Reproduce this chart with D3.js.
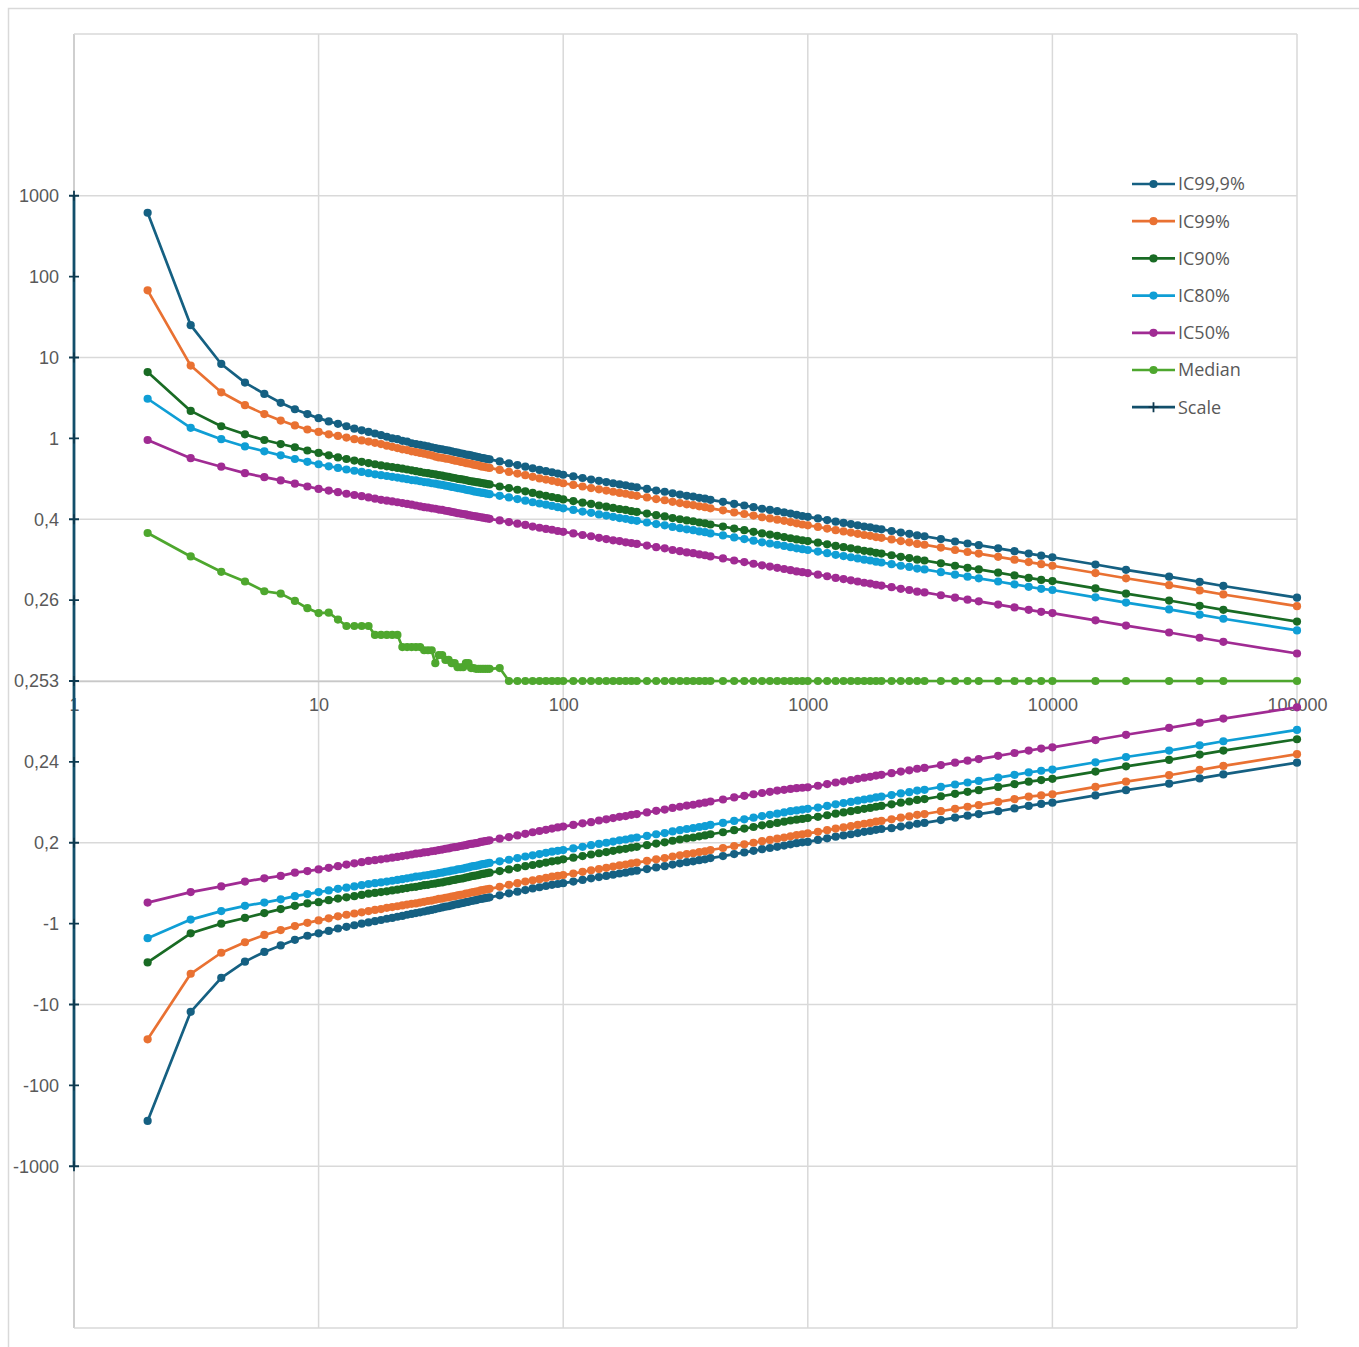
<!DOCTYPE html>
<html>
<head>
<meta charset="utf-8">
<script src="https://cdn.jsdelivr.net/npm/d3@7"></script>
<style>
  body { margin: 0; background: #fff; }
  svg { display: block; font-family: "Open Sans", "Liberation Sans", sans-serif; }
</style>
</head>
<body>
<div id="chart"></div>
<script>
// sample sizes (log x axis)
const sampleSizes = [
  2, 3, 4, 5, 6, 7, 8, 9,
  10, 11, 12, 13, 14, 15, 16, 17, 18, 19, 20, 21, 22, 23, 24, 25, 26, 27, 28, 29,
  30, 31, 32, 33, 34, 35, 36, 37, 38, 39, 40, 41, 42, 43, 44, 45, 46, 47, 48, 49, 50,
  55, 60, 65, 70, 75, 80, 85, 90, 95, 100,
  110, 120, 130, 140, 150, 160, 170, 180, 190, 200,
  220, 240, 260, 280, 300, 320, 340, 360, 380, 400,
  450, 500, 550, 600, 650, 700, 750, 800, 850, 900, 950, 1000,
  1100, 1200, 1300, 1400, 1500, 1600, 1700, 1800, 1900, 2000,
  2200, 2400, 2600, 2800, 3000, 3500, 4000, 4500, 5000,
  6000, 7000, 8000, 9000, 10000, 15000, 20000, 30000, 40000, 50000, 100000
];

// values on the chart's stepped scale (one step per labelled tick, 0 = 0,253)
const ic999Hi = [
  5.79, 4.40, 3.92, 3.69, 3.55, 3.44, 3.36, 3.30,
  3.25, 3.21, 3.18, 3.15, 3.12, 3.10, 3.08, 3.06, 3.04, 3.02, 3.00, 2.99, 2.97, 2.96, 2.94, 2.93, 2.92, 2.91, 2.90, 2.89,
  2.88, 2.87, 2.865, 2.855, 2.85, 2.84, 2.83, 2.825, 2.815, 2.81, 2.80, 2.795, 2.79, 2.78, 2.775, 2.77, 2.76, 2.755, 2.75, 2.745, 2.74,
  2.715, 2.69, 2.67, 2.65, 2.63, 2.61, 2.595, 2.58, 2.565, 2.55,
  2.53, 2.51, 2.49, 2.475, 2.46, 2.445, 2.43, 2.42, 2.405, 2.395,
  2.375, 2.355, 2.34, 2.32, 2.305, 2.29, 2.28, 2.265, 2.255, 2.24,
  2.215, 2.19, 2.17, 2.15, 2.13, 2.115, 2.10, 2.085, 2.07, 2.055, 2.04, 2.03,
  2.01, 1.99, 1.97, 1.955, 1.94, 1.925, 1.91, 1.90, 1.885, 1.875,
  1.855, 1.835, 1.82, 1.80, 1.79, 1.755, 1.725, 1.70, 1.68,
  1.64, 1.605, 1.575, 1.55, 1.53, 1.44, 1.375, 1.29, 1.225, 1.175, 1.03
];
const ic99Hi = [
  4.83, 3.90, 3.57, 3.41, 3.30, 3.22, 3.16, 3.11,
  3.08, 3.05, 3.03, 3.01, 2.99, 2.975, 2.96, 2.945, 2.93, 2.91, 2.895, 2.88, 2.865, 2.855, 2.84, 2.83, 2.82, 2.81, 2.80, 2.79,
  2.775, 2.765, 2.76, 2.75, 2.745, 2.735, 2.725, 2.72, 2.71, 2.705, 2.695, 2.69, 2.685, 2.675, 2.67, 2.665, 2.655, 2.65, 2.645, 2.64, 2.635,
  2.61, 2.585, 2.565, 2.545, 2.525, 2.505, 2.49, 2.475, 2.46, 2.445,
  2.425, 2.405, 2.385, 2.37, 2.355, 2.34, 2.325, 2.315, 2.30, 2.29,
  2.27, 2.25, 2.235, 2.215, 2.20, 2.185, 2.175, 2.16, 2.15, 2.135,
  2.11, 2.085, 2.065, 2.045, 2.025, 2.01, 1.995, 1.98, 1.965, 1.95, 1.935, 1.925,
  1.905, 1.885, 1.865, 1.85, 1.835, 1.82, 1.805, 1.795, 1.78, 1.77,
  1.75, 1.73, 1.715, 1.695, 1.685, 1.65, 1.62, 1.595, 1.575,
  1.535, 1.50, 1.47, 1.445, 1.425, 1.335, 1.27, 1.185, 1.12, 1.07, 0.925
];
const ic90Hi = [
  3.82, 3.34, 3.15, 3.05, 2.98, 2.93, 2.89, 2.85,
  2.82, 2.79, 2.765, 2.745, 2.725, 2.71, 2.695, 2.68, 2.665, 2.655, 2.645, 2.635, 2.625, 2.615, 2.605, 2.595, 2.585, 2.575, 2.57, 2.56,
  2.555, 2.545, 2.54, 2.53, 2.525, 2.515, 2.51, 2.50, 2.495, 2.49, 2.485, 2.475, 2.47, 2.465, 2.46, 2.455, 2.45, 2.445, 2.44, 2.435, 2.43,
  2.405, 2.385, 2.365, 2.345, 2.325, 2.305, 2.29, 2.275, 2.26, 2.245,
  2.225, 2.205, 2.19, 2.17, 2.155, 2.14, 2.125, 2.115, 2.10, 2.09,
  2.07, 2.05, 2.035, 2.015, 2.00, 1.985, 1.975, 1.96, 1.95, 1.935,
  1.91, 1.885, 1.865, 1.845, 1.825, 1.81, 1.795, 1.78, 1.765, 1.75, 1.74, 1.73,
  1.71, 1.69, 1.67, 1.655, 1.64, 1.625, 1.61, 1.60, 1.585, 1.575,
  1.555, 1.535, 1.52, 1.50, 1.49, 1.455, 1.425, 1.40, 1.38,
  1.34, 1.305, 1.275, 1.25, 1.235, 1.145, 1.08, 0.995, 0.93, 0.88, 0.735
];
const ic80Hi = [
  3.49, 3.13, 2.99, 2.90, 2.84, 2.79, 2.745, 2.71,
  2.68, 2.655, 2.635, 2.615, 2.60, 2.585, 2.57, 2.555, 2.545, 2.535, 2.525, 2.515, 2.505, 2.495, 2.485, 2.48, 2.47, 2.46, 2.455, 2.445,
  2.44, 2.43, 2.425, 2.415, 2.41, 2.40, 2.395, 2.385, 2.38, 2.375, 2.365, 2.36, 2.355, 2.345, 2.34, 2.335, 2.33, 2.325, 2.32, 2.315, 2.31,
  2.29, 2.27, 2.25, 2.23, 2.21, 2.195, 2.18, 2.165, 2.15, 2.135,
  2.115, 2.095, 2.08, 2.06, 2.045, 2.03, 2.015, 2.005, 1.99, 1.98,
  1.96, 1.94, 1.925, 1.905, 1.89, 1.875, 1.865, 1.85, 1.84, 1.825,
  1.80, 1.775, 1.755, 1.735, 1.715, 1.70, 1.685, 1.67, 1.655, 1.64, 1.63, 1.62,
  1.60, 1.58, 1.56, 1.545, 1.53, 1.515, 1.50, 1.49, 1.475, 1.465,
  1.445, 1.425, 1.41, 1.39, 1.38, 1.345, 1.315, 1.29, 1.27,
  1.23, 1.195, 1.165, 1.14, 1.125, 1.035, 0.97, 0.885, 0.82, 0.77, 0.625
];
const ic50Hi = [
  2.98, 2.755, 2.65, 2.57, 2.52, 2.48, 2.44, 2.405,
  2.375, 2.355, 2.335, 2.315, 2.30, 2.285, 2.27, 2.255, 2.24, 2.23, 2.22, 2.21, 2.20, 2.19, 2.18, 2.17, 2.16, 2.15, 2.145, 2.135,
  2.13, 2.12, 2.115, 2.105, 2.10, 2.09, 2.085, 2.075, 2.07, 2.065, 2.06, 2.05, 2.045, 2.04, 2.035, 2.03, 2.025, 2.02, 2.015, 2.01, 2.005,
  1.985, 1.965, 1.945, 1.93, 1.91, 1.895, 1.88, 1.87, 1.855, 1.845,
  1.825, 1.805, 1.79, 1.77, 1.755, 1.74, 1.73, 1.715, 1.705, 1.695,
  1.675, 1.655, 1.64, 1.62, 1.605, 1.59, 1.58, 1.565, 1.555, 1.54,
  1.515, 1.49, 1.47, 1.45, 1.43, 1.415, 1.40, 1.385, 1.37, 1.355, 1.345, 1.335,
  1.315, 1.295, 1.275, 1.26, 1.245, 1.23, 1.215, 1.205, 1.19, 1.18,
  1.16, 1.14, 1.125, 1.105, 1.095, 1.06, 1.03, 1.005, 0.985,
  0.945, 0.91, 0.88, 0.855, 0.84, 0.75, 0.685, 0.60, 0.535, 0.485, 0.34
];
const medianVals = [
  1.83, 1.54, 1.35, 1.23, 1.11, 1.08, 0.99, 0.90,
  0.84, 0.845, 0.76, 0.68, 0.68, 0.68, 0.68, 0.57, 0.57, 0.57, 0.57, 0.57, 0.42, 0.42, 0.42, 0.42, 0.42, 0.38, 0.38, 0.38,
  0.22, 0.32, 0.32, 0.26, 0.26, 0.22, 0.22, 0.17, 0.17, 0.17, 0.22, 0.22, 0.16, 0.16, 0.15, 0.15, 0.15, 0.15, 0.15, 0.15, 0.15,
  0.16, 0, 0, 0, 0, 0, 0, 0, 0, 0,
  0, 0, 0, 0, 0, 0, 0, 0, 0, 0,
  0, 0, 0, 0, 0, 0, 0, 0, 0, 0,
  0, 0, 0, 0, 0, 0, 0, 0, 0, 0, 0, 0,
  0, 0, 0, 0, 0, 0, 0, 0, 0, 0,
  0, 0, 0, 0, 0, 0, 0, 0, 0,
  0, 0, 0, 0, 0, 0, 0, 0, 0, 0, 0
];
const ic50Lo = [
  -2.74, -2.61, -2.54, -2.48, -2.44, -2.41, -2.37, -2.35,
  -2.33, -2.31, -2.29, -2.27, -2.255, -2.24, -2.225, -2.215, -2.205, -2.195, -2.185, -2.175, -2.165, -2.155, -2.145, -2.135, -2.13, -2.12, -2.115, -2.105,
  -2.10, -2.09, -2.085, -2.075, -2.07, -2.06, -2.055, -2.05, -2.04, -2.035, -2.03, -2.02, -2.015, -2.01, -2.005, -2.00, -1.99, -1.985, -1.98, -1.975, -1.97,
  -1.95, -1.93, -1.91, -1.89, -1.87, -1.855, -1.84, -1.825, -1.81, -1.80,
  -1.78, -1.76, -1.745, -1.725, -1.71, -1.695, -1.68, -1.67, -1.655, -1.645,
  -1.625, -1.605, -1.59, -1.57, -1.555, -1.54, -1.53, -1.515, -1.505, -1.49,
  -1.465, -1.44, -1.42, -1.40, -1.385, -1.37, -1.355, -1.345, -1.335, -1.325, -1.32, -1.315,
  -1.295, -1.275, -1.255, -1.24, -1.225, -1.21, -1.195, -1.185, -1.17, -1.16,
  -1.14, -1.12, -1.105, -1.085, -1.075, -1.04, -1.01, -0.985, -0.965,
  -0.925, -0.89, -0.86, -0.835, -0.82, -0.73, -0.665, -0.58, -0.515, -0.465, -0.325
];
const ic80Lo = [
  -3.18, -2.95, -2.845, -2.78, -2.74, -2.70, -2.66, -2.635,
  -2.61, -2.59, -2.57, -2.555, -2.54, -2.525, -2.51, -2.50, -2.49, -2.48, -2.47, -2.46, -2.45, -2.44, -2.43, -2.42, -2.415, -2.405, -2.40, -2.39,
  -2.385, -2.375, -2.37, -2.36, -2.355, -2.345, -2.34, -2.33, -2.325, -2.32, -2.31, -2.305, -2.295, -2.29, -2.285, -2.28, -2.27, -2.265, -2.26, -2.255, -2.25,
  -2.23, -2.21, -2.19, -2.17, -2.155, -2.14, -2.125, -2.11, -2.10, -2.09,
  -2.07, -2.05, -2.03, -2.015, -2.00, -1.985, -1.97, -1.96, -1.945, -1.935,
  -1.915, -1.895, -1.88, -1.86, -1.845, -1.83, -1.82, -1.805, -1.795, -1.78,
  -1.755, -1.73, -1.71, -1.69, -1.67, -1.655, -1.64, -1.625, -1.61, -1.60, -1.59, -1.58,
  -1.565, -1.545, -1.525, -1.51, -1.495, -1.48, -1.465, -1.455, -1.44, -1.43,
  -1.41, -1.39, -1.375, -1.355, -1.345, -1.31, -1.28, -1.255, -1.235,
  -1.195, -1.16, -1.13, -1.11, -1.095, -1.005, -0.94, -0.86, -0.795, -0.745, -0.605
];
const ic90Lo = [
  -3.48, -3.12, -3.00, -2.93, -2.87, -2.82, -2.78, -2.75,
  -2.735, -2.71, -2.69, -2.675, -2.66, -2.645, -2.63, -2.62, -2.61, -2.60, -2.59, -2.58, -2.57, -2.56, -2.55, -2.545, -2.535, -2.525, -2.52, -2.51,
  -2.505, -2.495, -2.49, -2.48, -2.475, -2.465, -2.46, -2.45, -2.445, -2.44, -2.43, -2.425, -2.415, -2.41, -2.405, -2.40, -2.39, -2.385, -2.38, -2.375, -2.37,
  -2.35, -2.33, -2.31, -2.29, -2.275, -2.26, -2.245, -2.23, -2.22, -2.205,
  -2.185, -2.165, -2.145, -2.13, -2.115, -2.10, -2.085, -2.075, -2.06, -2.05,
  -2.03, -2.01, -1.995, -1.975, -1.96, -1.945, -1.935, -1.92, -1.91, -1.895,
  -1.87, -1.845, -1.825, -1.805, -1.785, -1.77, -1.755, -1.74, -1.725, -1.715, -1.705, -1.695,
  -1.68, -1.66, -1.64, -1.625, -1.61, -1.595, -1.58, -1.57, -1.555, -1.545,
  -1.525, -1.505, -1.49, -1.47, -1.46, -1.425, -1.395, -1.37, -1.35,
  -1.31, -1.275, -1.245, -1.225, -1.21, -1.12, -1.055, -0.975, -0.91, -0.86, -0.72
];
const ic99Lo = [
  -4.43, -3.62, -3.36, -3.23, -3.14, -3.08, -3.03, -2.99,
  -2.96, -2.935, -2.91, -2.89, -2.875, -2.86, -2.845, -2.83, -2.82, -2.805, -2.795, -2.785, -2.775, -2.765, -2.755, -2.75, -2.74, -2.73, -2.72, -2.715,
  -2.705, -2.695, -2.69, -2.68, -2.675, -2.665, -2.66, -2.65, -2.645, -2.64, -2.63, -2.625, -2.615, -2.61, -2.605, -2.60, -2.59, -2.585, -2.58, -2.575, -2.57,
  -2.545, -2.52, -2.50, -2.48, -2.465, -2.45, -2.435, -2.42, -2.41, -2.40,
  -2.38, -2.36, -2.34, -2.325, -2.31, -2.295, -2.28, -2.27, -2.255, -2.245,
  -2.225, -2.205, -2.19, -2.17, -2.155, -2.14, -2.13, -2.115, -2.105, -2.09,
  -2.065, -2.04, -2.02, -2.00, -1.98, -1.965, -1.95, -1.935, -1.92, -1.905, -1.895, -1.885,
  -1.865, -1.845, -1.825, -1.81, -1.795, -1.78, -1.765, -1.755, -1.74, -1.73,
  -1.71, -1.69, -1.675, -1.655, -1.645, -1.61, -1.58, -1.555, -1.535,
  -1.495, -1.46, -1.43, -1.415, -1.40, -1.31, -1.245, -1.165, -1.10, -1.05, -0.905
];
const ic999Lo = [
  -5.44, -4.09, -3.67, -3.47, -3.35, -3.27, -3.20, -3.15,
  -3.12, -3.09, -3.06, -3.04, -3.02, -3.00, -2.985, -2.97, -2.955, -2.94, -2.93, -2.915, -2.905, -2.89, -2.88, -2.87, -2.86, -2.85, -2.84, -2.83,
  -2.82, -2.81, -2.80, -2.79, -2.785, -2.775, -2.765, -2.76, -2.75, -2.745, -2.735, -2.73, -2.72, -2.715, -2.71, -2.70, -2.695, -2.69, -2.685, -2.68, -2.675,
  -2.65, -2.625, -2.605, -2.585, -2.565, -2.55, -2.535, -2.52, -2.51, -2.50,
  -2.48, -2.46, -2.44, -2.425, -2.41, -2.395, -2.38, -2.37, -2.355, -2.345,
  -2.325, -2.305, -2.29, -2.27, -2.255, -2.24, -2.23, -2.215, -2.205, -2.19,
  -2.165, -2.14, -2.12, -2.10, -2.08, -2.065, -2.05, -2.035, -2.02, -2.005, -1.995, -1.99,
  -1.965, -1.945, -1.925, -1.91, -1.895, -1.88, -1.865, -1.855, -1.84, -1.83,
  -1.82, -1.80, -1.785, -1.765, -1.755, -1.72, -1.69, -1.665, -1.645,
  -1.61, -1.575, -1.545, -1.52, -1.505, -1.415, -1.35, -1.27, -1.205, -1.155, -1.01
];

// the "Scale" series: one step per tick label
const scaleSteps = [6, 5, 4, 3, 2, 1, 0, -1, -2, -3, -4, -5, -6];
const scaleLabels = ['1000', '100', '10', '1', '0,4', '0,26', '0,253', '0,24', '0,2', '-1', '-10', '-100', '-1000'];
const xTicks = [1, 10, 100, 1000, 10000, 100000];
const legendNames = ['IC99,9%', 'IC99%', 'IC90%', 'IC80%', 'IC50%', 'Median', 'Scale'];
const colors = ['#156082', '#e97132', '#196b24', '#0f9ed5', '#a02b93', '#4ea72e', '#124f6b'];

const W = 1359, H = 1347;
const plot = { left: 74, right: 1297, top: 34, bottom: 1328 };
const dotR = 4.1;
const lineW = 2.7;

const svg = d3.select('#chart').append('svg').attr('width', W).attr('height', H);

// chart frame
svg.append('rect')
  .attr('x', 8.5).attr('y', 8.5)
  .attr('width', W).attr('height', H)
  .attr('fill', 'none').attr('stroke', '#d9d9d9').attr('stroke-width', 1.5);

const x = d3.scaleLog().domain([1, 100000]).range([plot.left, plot.right]);
const y = d3.scaleLinear().domain([-8, 8]).range([plot.bottom, plot.top]);

// gridlines
svg.append('g')
  .selectAll('line')
  .data(xTicks)
  .join('line')
  .attr('x1', d => x(d)).attr('x2', d => x(d))
  .attr('y1', plot.top).attr('y2', plot.bottom)
  .attr('stroke', (d, i) => (i === 0 ? '#bfbfbf' : '#d9d9d9'))
  .attr('stroke-width', 1.5);

svg.append('g')
  .selectAll('line')
  .data(d3.range(-8, 9, 2))
  .join('line')
  .attr('x1', plot.left).attr('x2', plot.right)
  .attr('y1', d => y(d)).attr('y2', d => y(d))
  .attr('stroke', '#d9d9d9')
  .attr('stroke-width', 1.5);

// x axis crossing at 0,253
const xAxis = svg.append('g')
  .attr('transform', `translate(0, ${y(0)})`)
  .call(d3.axisBottom(x).tickValues(xTicks).tickFormat(d3.format('d')).tickSize(0).tickPadding(17));
xAxis.select('.domain').attr('stroke', '#c8c8c8').attr('stroke-width', 1.5);
xAxis.selectAll('text').attr('fill', '#595959').attr('font-size', 18);

// y labels from the scale steps
const yAxis = svg.append('g')
  .attr('transform', `translate(${plot.left}, 0)`)
  .call(d3.axisLeft(y).tickValues(scaleSteps).tickFormat((d, i) => scaleLabels[i]).tickSize(0).tickPadding(15));
yAxis.select('.domain').remove();
yAxis.selectAll('text').attr('fill', '#595959').attr('font-size', 18);

const line = d3.line()
  .x((d, i) => x(sampleSizes[i]))
  .y(d => y(d));

const drawSeries = (values, color) => {
  const g = svg.append('g');
  g.append('path')
    .datum(values)
    .attr('d', line)
    .attr('fill', 'none')
    .attr('stroke', color)
    .attr('stroke-width', lineW)
    .attr('stroke-linejoin', 'round');
  g.selectAll('circle')
    .data(values)
    .join('circle')
    .attr('cx', (d, i) => x(sampleSizes[i]))
    .attr('cy', d => y(d))
    .attr('r', dotR)
    .attr('fill', color);
};

const bands = [
  [ic999Hi, ic999Lo],
  [ic99Hi, ic99Lo],
  [ic90Hi, ic90Lo],
  [ic80Hi, ic80Lo],
  [ic50Hi, ic50Lo]
];
bands.forEach(([hi, lo], i) => {
  drawSeries(hi, colors[i]);
  drawSeries(lo, colors[i]);
});
drawSeries(medianVals, colors[5]);

// Scale series: vertical line with + markers at x = 1
const scaleG = svg.append('g');
scaleG.append('line')
  .attr('x1', x(1)).attr('x2', x(1))
  .attr('y1', y(d3.max(scaleSteps))).attr('y2', y(d3.min(scaleSteps)))
  .attr('stroke', colors[6]).attr('stroke-width', 2.8);
scaleG.selectAll('path')
  .data(scaleSteps)
  .join('path')
  .attr('d', d => `M${x(1) - 5},${y(d)}H${x(1) + 5}M${x(1)},${y(d) - 5}V${y(d) + 5}`)
  .attr('stroke', '#0e3a50')
  .attr('stroke-width', 1.8);

// legend
const legend = svg.append('g').attr('transform', 'translate(1132, 184)');
const item = legend.selectAll('g')
  .data(legendNames)
  .join('g')
  .attr('transform', (d, i) => `translate(0, ${i * 37.2})`);
item.append('line')
  .attr('x1', 0).attr('x2', 43)
  .attr('stroke', (d, i) => colors[i])
  .attr('stroke-width', lineW);
item.filter((d, i) => i < 6)
  .append('circle')
  .attr('cx', 21.5).attr('r', dotR)
  .attr('fill', (d, i) => colors[i]);
item.filter((d, i) => i === 6)
  .append('path')
  .attr('d', 'M16.5,0H26.5M21.5,-5V5')
  .attr('stroke', '#0e3a50')
  .attr('stroke-width', 1.8);
item.append('text')
  .attr('x', 46)
  .attr('dy', '0.35em')
  .attr('font-size', 18)
  .attr('fill', '#595959')
  .text(d => d);
</script>
</body>
</html>
